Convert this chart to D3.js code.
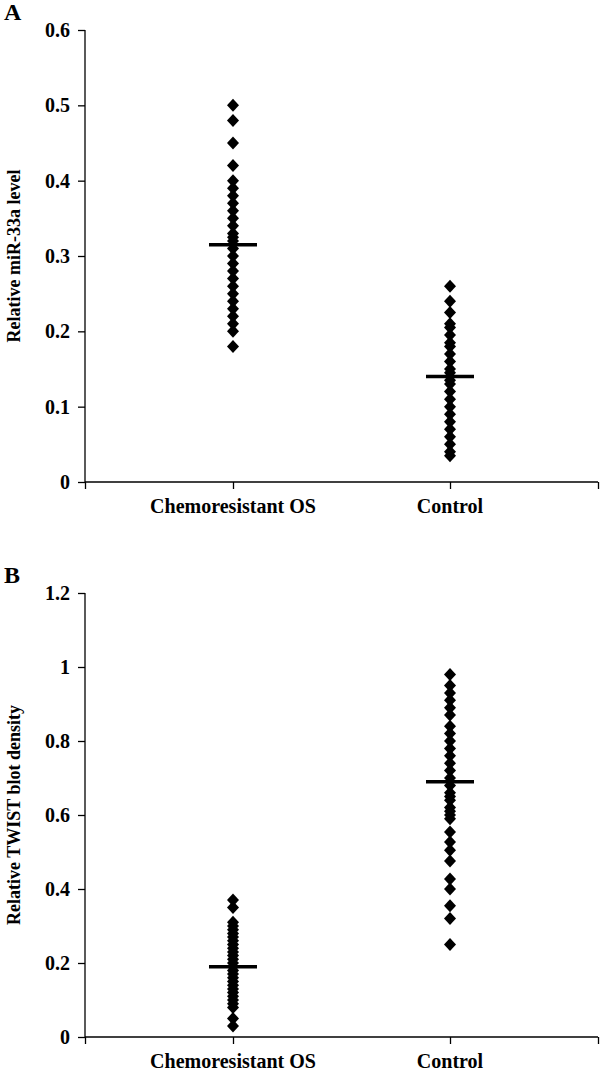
<!DOCTYPE html>
<html><head><meta charset="utf-8">
<script src="https://cdn.jsdelivr.net/npm/d3@7"></script>
<style>body{margin:0;background:#fff}svg{display:block}</style>
</head><body>
<script>
const categories = ["Chemoresistant OS", "Control"];
const aChemo = [0.50,0.48,0.45,0.42,0.40,0.39,0.38,0.37,0.36,0.35,0.34,0.33,0.325,0.32,0.31,0.30,0.29,0.28,0.27,0.26,0.25,0.24,0.23,0.22,0.21,0.20,0.18];
const aControl = [0.26,0.24,0.225,0.21,0.205,0.195,0.185,0.18,0.17,0.16,0.15,0.145,0.135,0.13,0.12,0.11,0.10,0.09,0.08,0.07,0.06,0.05,0.04,0.035];
const aMeans = [0.315, 0.14];
const bChemo = [0.37,0.35,0.31,0.30,0.29,0.28,0.27,0.26,0.25,0.24,0.23,0.22,0.21,0.20,0.19,0.18,0.17,0.16,0.15,0.14,0.13,0.12,0.11,0.10,0.09,0.08,0.05,0.03];
const bControl = [0.98,0.95,0.93,0.91,0.89,0.87,0.84,0.82,0.80,0.78,0.76,0.74,0.72,0.70,0.68,0.66,0.65,0.64,0.62,0.61,0.60,0.59,0.554,0.527,0.505,0.476,0.427,0.40,0.355,0.32,0.25];
const bMeans = [0.19, 0.69];
const aTicks = [0,0.1,0.2,0.3,0.4,0.5,0.6];
const bTicks = [0,0.2,0.4,0.6,0.8,1,1.2];

const W = 600, H = 1078;
const svg = d3.select("body").append("svg").attr("width", W).attr("height", H);
const font = "'Liberation Serif','Times New Roman',serif";

const x = d3.scaleLinear().domain([0.318, 2.682]).range([85, 598]);
const diamond = "M0,-6.5L6,0L0,6.5L-6,0Z";

function panel(letter, yTop, yBottom, yMax, ticks, series, means, title) {
  const y = d3.scaleLinear().domain([0, yMax]).range([yBottom, yTop]);
  const g = svg.append("g");
  // y axis
  const ya = g.append("g").attr("transform", `translate(${x.range()[0]},0)`)
    .call(d3.axisLeft(y).tickValues(ticks).tickSize(7).tickPadding(8).tickFormat(d3.format("~g")));
  ya.select(".domain").attr("stroke", "#000").attr("stroke-width", 1.3).attr("d", `M0,${yTop}V${yBottom}`);
  ya.selectAll(".tick line").attr("stroke", "#000").attr("stroke-width", 1.3);
  ya.selectAll(".tick text").attr("font-family", font).attr("font-weight", "bold").attr("font-size", 20).attr("fill", "#000");
  // x axis
  const xa = g.append("g").attr("transform", `translate(0,${yBottom})`)
    .call(d3.axisBottom(x).tickValues([0.318, 1, 2, 2.682]).tickSize(7).tickFormat(""));
  xa.select(".domain").attr("stroke", "#000").attr("stroke-width", 1.3).attr("d", `M${x.range()[0]},0H${x.range()[1]}`);
  xa.selectAll(".tick line").attr("stroke", "#000").attr("stroke-width", 1.3);
  // category labels
  categories.forEach((c, i) => {
    g.append("text").attr("x", x(i + 1)).attr("y", yBottom + 31).attr("text-anchor", "middle")
      .attr("font-family", font).attr("font-weight", "bold").attr("font-size", 20).text(c);
  });
  // points
  series.forEach((vals, i) => {
    g.append("g").selectAll("path").data(vals).join("path")
      .attr("d", diamond).attr("fill", "#000")
      .attr("transform", d => `translate(${x(i + 1)},${y(d)})`);
  });
  // means
  g.append("g").selectAll("line").data(means).join("line")
    .attr("x1", (d, i) => x(i + 1) - 24).attr("x2", (d, i) => x(i + 1) + 24)
    .attr("y1", d => y(d)).attr("y2", d => y(d))
    .attr("stroke", "#000").attr("stroke-width", 3.5);
  // title
  g.append("text").attr("transform", `translate(20,${(yTop + yBottom) / 2}) rotate(-90)`)
    .attr("text-anchor", "middle").attr("font-family", font).attr("font-weight", "bold").attr("font-size", 18).text(title);
  // letter
  g.append("text").attr("x", 4).attr("y", yTop - 10).attr("font-family", font).attr("font-weight", "bold").attr("font-size", 24).text(letter);
}

panel("A", 30, 482, 0.6, aTicks, [aChemo, aControl], aMeans, "Relative miR-33a level");
panel("B", 593, 1037, 1.2, bTicks, [bChemo, bControl], bMeans, "Relative TWIST blot density");
</script>
</body></html>
